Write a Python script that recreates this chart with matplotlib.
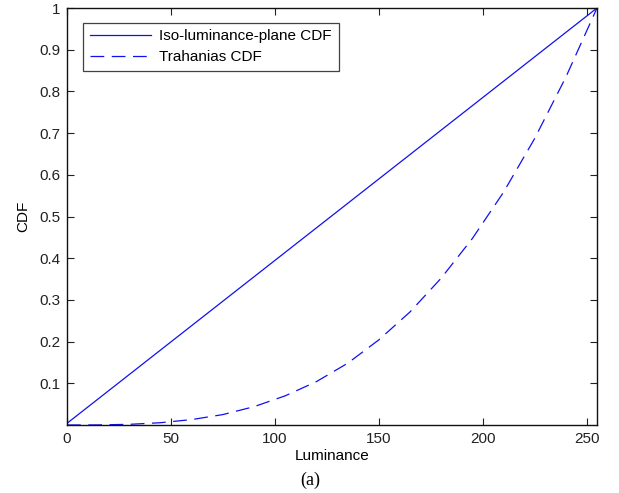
import matplotlib
matplotlib.use("Agg")
import matplotlib.pyplot as plt

# Luminance levels and the two cumulative distributions
iso_x = [0, 255]
iso_cdf = [0.004, 1.0]

trah_x = [0, 15, 30, 45, 60, 75, 90, 105, 120, 135, 150, 165, 180, 195, 210, 225, 240, 255]
trah_cdf = [0.0, 0.0002, 0.0016, 0.0055, 0.013, 0.025, 0.044, 0.07, 0.104, 0.148,
            0.204, 0.271, 0.352, 0.447, 0.558, 0.687, 0.834, 1.0]

x_ticks = [0, 50, 100, 150, 200, 250]
y_ticks = [0.1, 0.2, 0.3, 0.4, 0.5, 0.6, 0.7, 0.8, 0.9, 1.0]
y_tick_labels = ["0.1", "0.2", "0.3", "0.4", "0.5", "0.6", "0.7", "0.8", "0.9", "1"]

plt.rcParams["font.family"] = ["Liberation Sans", "DejaVu Sans"]

fig = plt.figure(figsize=(6.19, 4.93), dpi=100)
ax = fig.add_axes([67 / 619, 68 / 493, 530 / 619, 417 / 493])

ax.plot(iso_x, iso_cdf, color="#1010f0", lw=0.9, label="Iso-luminance-plane CDF")
ax.plot(trah_x, trah_cdf, color="#1010f0", lw=0.9, linestyle=(0, (11, 6)),
        label="Trahanias CDF")

ax.set_xlim(0, 255)
ax.set_ylim(0, 1)
ax.set_xticks(x_ticks)
ax.set_xticklabels([str(t) for t in x_ticks])
ax.set_yticks(y_ticks)
ax.set_yticklabels(y_tick_labels)
ax.tick_params(direction="in", length=5, width=0.8, top=True, right=True,
               labelsize=11, colors="#222222", pad=5)
for s in ax.spines.values():
    s.set_linewidth(1.0)
    s.set_color("#111111")

ax.set_xlabel("Luminance", fontsize=11, labelpad=2)
ax.set_ylabel("CDF", fontsize=11, labelpad=6)

leg = ax.legend(loc="upper left", bbox_to_anchor=(0.030, 0.965), fontsize=11,
                frameon=True, fancybox=False, edgecolor="#111111",
                handlelength=4.0, handletextpad=0.55, borderpad=0.45,
                labelspacing=0.45, borderaxespad=0)
leg.get_frame().set_linewidth(0.9)

fig.text(310 / 619, 1 - 480 / 493, "(a)", ha="center", va="center",
         fontsize=13, family=["Liberation Serif", "DejaVu Serif"])

fig.savefig("out.png", dpi=100, facecolor="white")
